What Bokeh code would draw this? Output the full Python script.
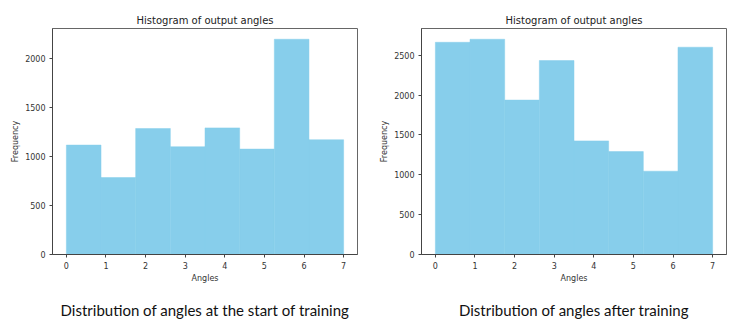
from bokeh.plotting import figure
from bokeh.layouts import row
from bokeh.models import Title, SingleIntervalTicker
from bokeh.embed import file_html
from bokeh.resources import INLINE
import numpy as np

bin_range = (0.0, 7.0)
n_bins = 8
counts_start = [1115, 784, 1284, 1098, 1290, 1074, 2193, 1169]
counts_after = [2662, 2700, 1937, 2433, 1425, 1291, 1045, 2600]
titles = ["Histogram of output angles", "Histogram of output angles"]
captions = ["Distribution of angles at the start of training",
            "Distribution of angles after training"]

edges = np.linspace(bin_range[0], bin_range[1], n_bins + 1)


def make(counts, title, caption, width, bl, br):
    top = max(counts) * 1.05
    pad = (bin_range[1] - bin_range[0]) * 0.05
    p = figure(width=width, height=326, x_range=(bin_range[0] - pad, bin_range[1] + pad),
               y_range=(0, top), output_backend="svg", toolbar_location=None,
               min_border_left=bl, min_border_right=br, min_border_top=28,
               min_border_bottom=72)
    p.quad(left=edges[:-1], right=edges[1:], bottom=0, top=counts,
           fill_color="#87CEEB", line_color="#87CEEB", line_width=0.5)
    p.title.text = title
    p.title.align = "center"
    p.title.text_font = "DejaVu Sans"
    p.title.text_font_size = "10px"
    p.title.text_font_style = "normal"
    p.title.text_color = "#222222"
    p.title.standoff = 6
    p.xgrid.visible = False
    p.ygrid.visible = False
    p.outline_line_color = "#666666"
    p.outline_line_width = 1
    p.xaxis.ticker = SingleIntervalTicker(interval=1, num_minor_ticks=0)
    p.yaxis.ticker = SingleIntervalTicker(interval=500, num_minor_ticks=0)
    for ax, lab in ((p.xaxis, "Angles"), (p.yaxis, "Frequency")):
        ax.axis_label = lab
        ax.axis_label_text_font = "DejaVu Sans"
        ax.axis_label_text_font_size = "8px"
        ax.axis_label_text_font_style = "normal"
        ax.axis_label_text_color = "#333333"
        ax.axis_label_standoff = 2
        ax.major_label_text_font = "DejaVu Sans"
        ax.major_label_text_font_size = "8px"
        ax.major_label_text_color = "#333333"
        ax.axis_line_color = "#444444"
        ax.major_tick_line_color = "#444444"
        ax.major_tick_out = 3
        ax.major_tick_in = 0
        ax.minor_tick_line_color = None
        ax.major_label_standoff = 4
    p.yaxis.major_label_orientation = "horizontal"
    spacer = Title(text=" ", text_font_size="5px", standoff=0)
    p.add_layout(spacer, "below")
    cap = Title(text=caption, align="center", text_font="Lato", text_font_size="15px",
                text_font_style="normal", text_color="#111111", standoff=10)
    p.add_layout(cap, "below")
    return p


p1 = make(counts_start, titles[0], captions[0], 370, 52, 13)
p2 = make(counts_after, titles[1], captions[1], 371, 51, 15)
layout = row(p1, p2)
open("out.html", "w").write(file_html(layout, INLINE))
